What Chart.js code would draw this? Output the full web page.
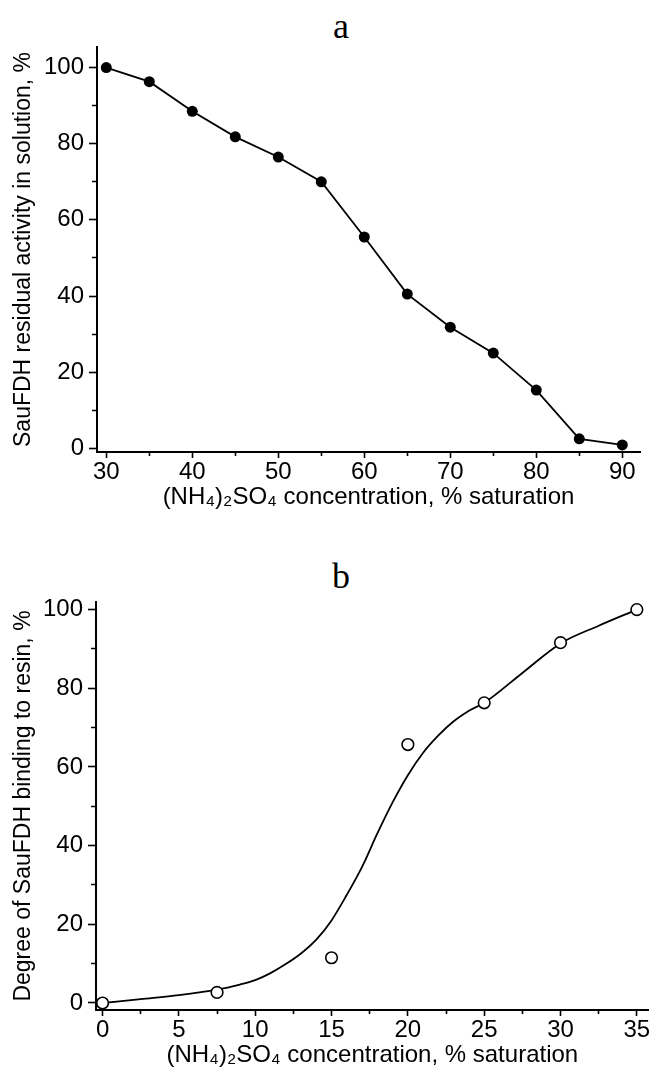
<!DOCTYPE html>
<html><head><meta charset="utf-8">
<script src="https://cdn.jsdelivr.net/npm/chart.js@4.4.1/dist/chart.umd.min.js"></script>
<style>
html,body{margin:0;padding:0;background:#fff;}
body{width:656px;height:1076px;position:relative;overflow:hidden;}
.wrap{position:absolute;left:0;width:656px;height:538px;}
.lbl{position:absolute;font-family:'Liberation Serif','Times New Roman',serif;font-size:36px;color:#000;line-height:36px;transform:translateX(-50%);}
</style></head><body>
<div class="lbl" style="left:341px;top:8px">a</div>
<div class="lbl" style="left:341px;top:558px">b</div>
<div class="wrap" style="top:0"><canvas id="ca" width="656" height="538"></canvas></div>
<div class="wrap" style="top:538px"><canvas id="cb" width="656" height="538"></canvas></div>
<script>
// ---- Panel a data ----
const concA = [30, 35, 40, 45, 50, 55, 60, 65, 70, 75, 80, 85, 90];
const activityA = [100, 96.3, 88.5, 81.8, 76.5, 70.0, 55.5, 40.5, 31.8, 25.0, 15.3, 2.5, 0.9];
const xTicksA = [30, 35, 40, 45, 50, 55, 60, 65, 70, 75, 80, 85, 90];
const xLabelsA = [30, 40, 50, 60, 70, 80, 90];
const yTicksA = [0, 10, 20, 30, 40, 50, 60, 70, 80, 90, 100];
const yLabelsA = [0, 20, 40, 60, 80, 100];

// ---- Panel b data ----
const concB = [0, 7.5, 15, 20, 25, 30, 35];
const bindingB = [0, 2.7, 11.5, 65.7, 76.3, 91.6, 100];
const fitX = [0, 2.5, 5, 7.5, 9, 10, 11, 12, 13, 14, 15, 16, 17, 18, 19, 20, 21, 22, 23, 24, 25, 27.5, 30, 32.5, 35];
const fitY = [0, 1.0, 2.0, 3.4, 4.7, 5.8, 7.6, 9.9, 12.6, 16.1, 21.0, 27.5, 34.6, 43.1, 51.0, 57.9, 63.6, 68.0, 71.6, 74.3, 76.3, 83.9, 91.4, 95.9, 100];
const xTicksB = [0, 2.5, 5, 7.5, 10, 12.5, 15, 17.5, 20, 22.5, 25, 27.5, 30, 32.5, 35];
const xLabelsB = [0, 5, 10, 15, 20, 25, 30, 35];
const yTicksB = [0, 10, 20, 30, 40, 50, 60, 70, 80, 90, 100];
const yLabelsB = [0, 20, 40, 60, 80, 100];

const tickFont = {family: "'Liberation Sans',Arial,sans-serif", size: 24};
const yTitleFont = {family: "'Liberation Sans',Arial,sans-serif", size: 23};
const xTitleFont = {family: "'Liberation Sans',Arial,sans-serif", size: 24};

function xScale(min, max, ticks, labels, title) {
  return {
    type: 'linear', position: 'bottom', min: min, max: max,
    afterBuildTicks: s => { s.ticks = ticks.map(v => ({value: v})); },
    afterFit: s => { s.height = 62; },
    border: {display: true, color: '#000', width: 2},
    grid: {
      display: true, drawOnChartArea: false, drawTicks: true, tickLength: 6,
      tickColor: '#000', tickWidth: 1.6,
      tickBorderDash: c => (c.tick && labels.includes(c.tick.value)) ? [] : [3, 100]
    },
    ticks: {
      autoSkip: false, maxRotation: 0, padding: 0, color: '#000', font: tickFont,
      callback: v => labels.includes(v) ? String(v) : ''
    },
    title: {display: true, text: title, color: '#000', font: xTitleFont, padding: {top: 0, bottom: 2}}
  };
}
function yScale(min, max, ticks, labels, title, w) {
  return {
    type: 'linear', position: 'left', min: min, max: max,
    afterBuildTicks: s => { s.ticks = ticks.map(v => ({value: v})); },
    afterFit: s => { s.width = w; },
    border: {display: true, color: '#000', width: 2},
    grid: {
      display: true, drawOnChartArea: false, drawTicks: true, tickLength: 8,
      tickColor: '#000', tickWidth: 1.6,
      tickBorderDash: c => (c.tick && labels.includes(c.tick.value)) ? [] : [0, 3, 4, 100]
    },
    ticks: {
      padding: 5, color: '#000', font: tickFont,
      callback: v => labels.includes(v) ? String(v) : ''
    },
    title: {display: true, text: title, color: '#000', font: yTitleFont, padding: {top: 10, bottom: 0}}
  };
}

const xTitle = '(NH\u2084)\u2082SO\u2084 concentration, % saturation';

new Chart(document.getElementById('ca'), {
  type: 'line',
  data: {
    datasets: [{
      data: concA.map((x, i) => ({x: x, y: activityA[i]})),
      borderColor: '#000', borderWidth: 1.8, tension: 0,
      pointRadius: 5.5, pointBackgroundColor: '#000', pointBorderColor: '#000', pointBorderWidth: 0
    }]
  },
  options: {
    responsive: false, animation: false, devicePixelRatio: 1,
    layout: {padding: {left: 0, right: 16, top: 47, bottom: 24}},
    plugins: {legend: {display: false}, tooltip: {enabled: false}},
    scales: {
      x: xScale(28.92, 92.06, xTicksA, xLabelsA, xTitle),
      y: yScale(-0.97, 105.4, yTicksA, yLabelsA, 'SauFDH residual activity in solution, %', 97)
    }
  }
});

new Chart(document.getElementById('cb'), {
  type: 'line',
  data: {
    datasets: [{
      data: concB.map((x, i) => ({x: x, y: bindingB[i]})),
      showLine: false,
      pointRadius: 5.8, pointBackgroundColor: '#fff', pointBorderColor: '#000', pointBorderWidth: 1.6
    }, {
      data: fitX.map((x, i) => ({x: x, y: fitY[i]})),
      borderColor: '#000', borderWidth: 1.8, cubicInterpolationMode: 'monotone',
      pointRadius: 0
    }]
  },
  options: {
    responsive: false, animation: false, devicePixelRatio: 1,
    layout: {padding: {left: 0, right: 6, top: 64, bottom: 4}},
    plugins: {legend: {display: false}, tooltip: {enabled: false}},
    scales: {
      x: xScale(-0.43, 35.77, xTicksB, xLabelsB, xTitle),
      y: yScale(-1.78, 101.93, yTicksB, yLabelsB, 'Degree of SauFDH binding to resin, %', 96)
    }
  }
});
</script>
</body></html>
